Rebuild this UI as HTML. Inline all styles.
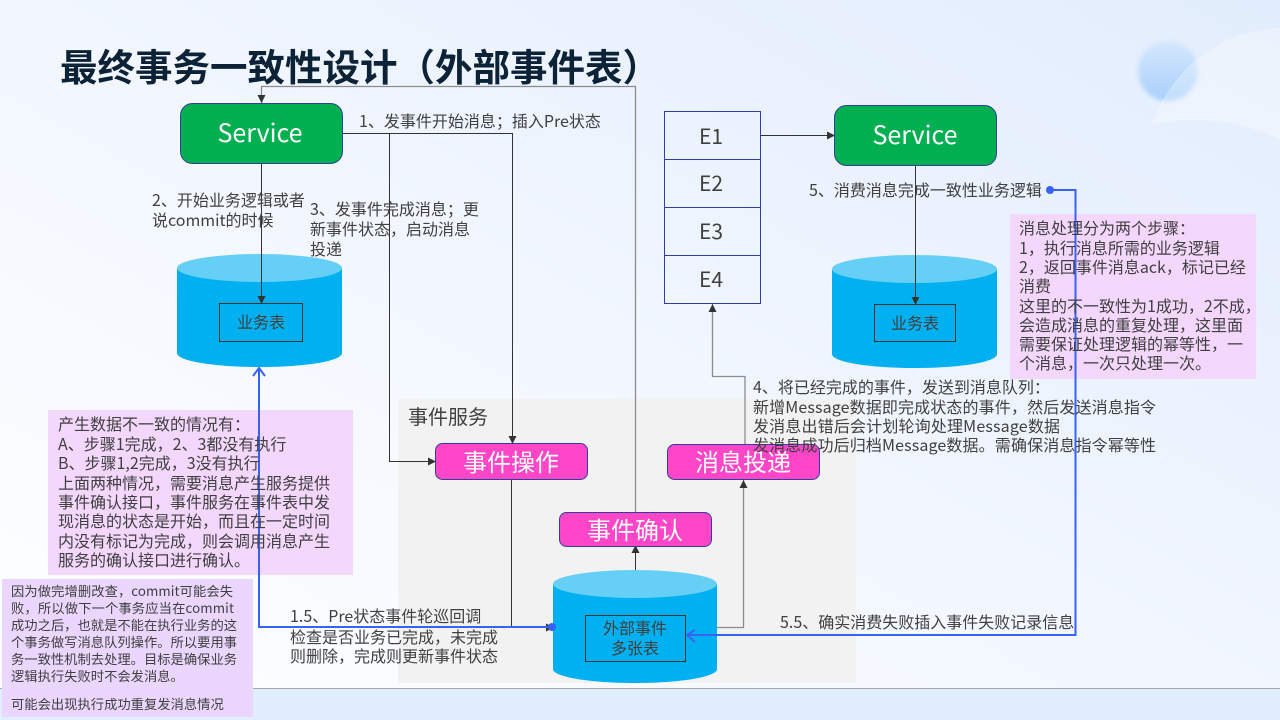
<!DOCTYPE html>
<html><head><meta charset="utf-8"><style>
html,body{margin:0;padding:0;width:1280px;height:720px;overflow:hidden;background:#fff}
svg{display:block}
text{font-family:"Liberation Sans","Noto Sans CJK SC",sans-serif;fill:#404040;font-size:16px}
.y{font-family:"Noto Sans CJK SC",sans-serif}
.w{fill:#fff;font-family:"Noto Sans CJK SC",sans-serif}
</style></head><body>
<svg width="1280" height="720" viewBox="0 0 1280 720" xmlns="http://www.w3.org/2000/svg">
<defs>
<linearGradient id="bg" x1="1" y1="0" x2="0" y2="1"><stop offset="0" stop-color="#e2edfd"/><stop offset=".55" stop-color="#f3f7ff"/><stop offset="1" stop-color="#ffffff"/></linearGradient>
<linearGradient id="ballg" x1="0" y1="0" x2="0" y2="1"><stop offset="0" stop-color="#d6e7fd"/><stop offset="1" stop-color="#a6d0fb"/></linearGradient>
<filter id="soft" x="-30%" y="-30%" width="160%" height="160%"><feGaussianBlur stdDeviation="2.500"/></filter>
<marker id="a" markerWidth="8" markerHeight="8" refX="7" refY="4" orient="auto" markerUnits="userSpaceOnUse"><path d="M0 0L8 4L0 8Z" fill="#333"/></marker>
</defs>
<rect width="1280" height="720" fill="url(#bg)"/>
<circle cx="1168" cy="71" r="30" fill="url(#ballg)" filter="url(#soft)"/>
<path d="M1152 125C1170 70 1220 30 1280 28V140C1240 120 1190 115 1152 125Z" fill="#fff" opacity=".3"/>
<rect x="0" y="688" width="1280" height="32" fill="#e0eeff"/>
<rect x="0" y="688" width="1280" height="1" fill="#a8a8a8"/>
<rect x="398" y="399" width="458" height="284" fill="#f2f2f2"/>

<text x="60" y="81" class="y" style="font-size:37.500px;font-weight:700;fill:#0c2237">最终事务一致性设计（外部事件表）</text>

<!-- purple notes -->
<rect x="48" y="410" width="305" height="165" fill="#f4d7fd"/>
<rect x="2" y="579" width="251" height="138" fill="#ead6fe"/>
<rect x="1010" y="214" width="246" height="165" fill="#f4d7fd"/>

<!-- left cylinder -->
<path d="M177 268V353C177 361 214 367 260 367S342 361 342 353V268Z" fill="#00b0f0"/>
<ellipse cx="259.500" cy="268" rx="82.500" ry="14" fill="#66cff6"/>
<rect x="219.500" y="303.500" width="83" height="38" fill="none" stroke="#333" stroke-width="1"/>
<!-- right cylinder -->
<path d="M832 269V354C832 362 869 368 915 368S997 362 997 354V269Z" fill="#00b0f0"/>
<ellipse cx="914.500" cy="269" rx="82.500" ry="14" fill="#66cff6"/>
<rect x="874.500" y="304.500" width="81" height="37" fill="none" stroke="#333" stroke-width="1"/>
<!-- bottom cylinder -->
<path d="M553 584V669C553 677 590 683 635 683S717 677 717 669V584Z" fill="#00b0f0"/>
<ellipse cx="635" cy="584" rx="82" ry="14" fill="#66cff6"/>
<rect x="585.500" y="615.500" width="100" height="46" fill="none" stroke="#333" stroke-width="1"/>

<!-- E list -->
<g fill="#fff" fill-opacity="0" stroke="#2f3f9e" stroke-width="1">
<rect x="664.500" y="111.500" width="96" height="48"/><rect x="664.500" y="159.500" width="96" height="48"/><rect x="664.500" y="207.500" width="96" height="48"/><rect x="664.500" y="255.500" width="96" height="48"/>
</g>

<!-- connectors -->
<g fill="none" stroke="#333" stroke-width="1">
<path d="M343 133.500H512.500V443" marker-end="url(#a)"/>
<path d="M389.500 133.500V461.500H435" marker-end="url(#a)"/>
<path d="M261.500 163V303" marker-end="url(#a)"/>
<path d="M761 135.500H834" marker-end="url(#a)"/>
<path d="M915.500 165V304" marker-end="url(#a)"/>
<path d="M511.500 480V627.500H553" marker-end="url(#a)"/>
<path d="M635.500 570V546" marker-end="url(#a)"/>
</g>
<g fill="none" stroke="#8c8c8c" stroke-width="1.300">
<path d="M635.500 512V86.500H261.500V103" />
<path d="M717 627.500H743.500V480"/>
<path d="M745 445V376.500H712.500V304"/>
</g>
<g fill="#333"><path d="M257.500 95L265.500 95L261.500 103Z"/><path d="M739.500 488H747.500L743.500 480Z"/><path d="M708.500 312H716.500L712.500 304Z"/></g>

<!-- blue connectors -->
<g fill="none" stroke="#3763f4" stroke-width="2">
<path d="M1051 190H1075.500V635H687"/>
<path d="M553 627H259V368"/>
<path d="M695 630L687 635L695 642M253 376L259 368L265 376"/>
</g>
<circle cx="1050" cy="190" r="4" fill="#3763f4"/><circle cx="552" cy="627" r="4" fill="#3763f4"/>

<!-- nodes -->
<rect x="180.500" y="103.500" width="162" height="60" rx="12" fill="#00b050" stroke="#2f3f9e"/>
<rect x="834.500" y="105.500" width="162" height="60" rx="12" fill="#00b050" stroke="#2f3f9e"/>
<rect x="435.500" y="443.500" width="152" height="36" rx="7" fill="#ff45c8" stroke="#2f3f9e"/>
<rect x="667.500" y="444.500" width="152" height="35" rx="7" fill="#ff45c8" stroke="#2f3f9e"/>
<rect x="559.500" y="512.500" width="152" height="34" rx="7" fill="#ff45c8" stroke="#2f3f9e"/>

<text x="260" y="142" text-anchor="middle" class="w" style="font-size:25px">Service</text>
<text x="915" y="144" text-anchor="middle" class="w" style="font-size:25px">Service</text>
<text x="511" y="471" text-anchor="middle" class="w" style="font-size:24px">事件操作</text>
<text x="743" y="471" text-anchor="middle" class="w" style="font-size:24px">消息投递</text>
<text x="635" y="539" text-anchor="middle" class="w" style="font-size:24px">事件确认</text>

<text x="711" y="144" text-anchor="middle" class="y" style="font-size:21px">E1</text><text x="711" y="191" text-anchor="middle" class="y" style="font-size:21px">E2</text><text x="711" y="239" text-anchor="middle" class="y" style="font-size:21px">E3</text><text x="711" y="287" text-anchor="middle" class="y" style="font-size:21px">E4</text>
<text x="261" y="328" text-anchor="middle" class="y">业务表</text>
<text x="915" y="329" text-anchor="middle" class="y">业务表</text>
<text x="635" y="634" text-anchor="middle" class="y">外部事件</text>
<text x="635" y="654" text-anchor="middle" class="y">多张表</text>
<text x="408" y="424" class="y" style="font-size:20px">事件服务</text>

<!-- labels -->
<text class="y" x="359" y="127">1、发事件开始消息；插入Pre状态</text>
<text class="y" x="152" y="206">2、开始业务逻辑或者</text>
<text class="y" x="152" y="226">说commit的时候</text>
<text class="y" x="310" y="215">3、发事件完成消息；更</text>
<text class="y" x="310" y="235">新事件状态，启动消息</text>
<text class="y" x="310" y="255">投递</text>
<text class="y" x="809" y="196">5、消费消息完成一致性业务逻辑</text>
<text class="y" x="753" y="393">4、将已经完成的事件，发送到消息队列：</text>
<text class="y" x="753" y="413" textLength="403">新增Message数据即完成状态的事件，然后发送消息指令</text>
<text class="y" x="753" y="432" textLength="307">发消息出错后会计划轮询处理Message数据</text>
<text class="y" x="753" y="451" textLength="403">发消息成功后归档Message数据。需确保消息指令幂等性</text>
<text class="y" x="290" y="622">1.5、Pre状态事件轮巡回调</text>
<text class="y" x="290" y="643">检查是否业务已完成，未完成</text>
<text class="y" x="290" y="662">则删除，完成则更新事件状态</text>
<text class="y" x="780" y="628">5.5、确实消费失败插入事件失败记录信息</text>

<text class="y" x="58" y="430">产生数据不一致的情况有：</text>
<text class="y" x="58" y="450">A、步骤1完成，2、3都没有执行</text>
<text class="y" x="58" y="469">B、步骤1,2完成，3没有执行</text>
<text class="y" x="58" y="489">上面两种情况，需要消息产生服务提供</text>
<text class="y" x="58" y="508">事件确认接口，事件服务在事件表中发</text>
<text class="y" x="58" y="527">现消息的状态是开始，而且在一定时间</text>
<text class="y" x="58" y="547">内没有标记为完成，则会调用消息产生</text>
<text class="y" x="58" y="566">服务的确认接口进行确认。</text>

<text class="y" style="font-size:13.300px" x="11" y="596" textLength="222">因为做完增删改查，commit可能会失</text>
<text class="y" style="font-size:13.300px" x="11" y="613" textLength="223">败，所以做下一个事务应当在commit</text>
<text class="y" style="font-size:13.300px" x="11" y="630">成功之后，也就是不能在执行业务的这</text>
<text class="y" style="font-size:13.300px" x="11" y="647">个事务做写消息队列操作。所以要用事</text>
<text class="y" style="font-size:13.300px" x="11" y="664">务一致性机制去处理。目标是确保业务</text>
<text class="y" style="font-size:13.300px" x="11" y="681">逻辑执行失败时不会发消息。</text>
<text class="y" style="font-size:13.300px" x="11" y="709">可能会出现执行成功重复发消息情况</text>

<text class="y" x="1019" y="234">消息处理分为两个步骤：</text>
<text class="y" x="1019" y="254">1，执行消息所需的业务逻辑</text>
<text class="y" x="1019" y="273">2，返回事件消息ack，标记已经</text>
<text class="y" x="1019" y="292">消费</text>
<text class="y" x="1019" y="312">这里的不一致性为1成功，2不成，</text>
<text class="y" x="1019" y="331">会造成消息的重复处理，这里面</text>
<text class="y" x="1019" y="350">需要保证处理逻辑的幂等性，一</text>
<text class="y" x="1019" y="369">个消息，一次只处理一次。</text>
</svg>
</body></html>
